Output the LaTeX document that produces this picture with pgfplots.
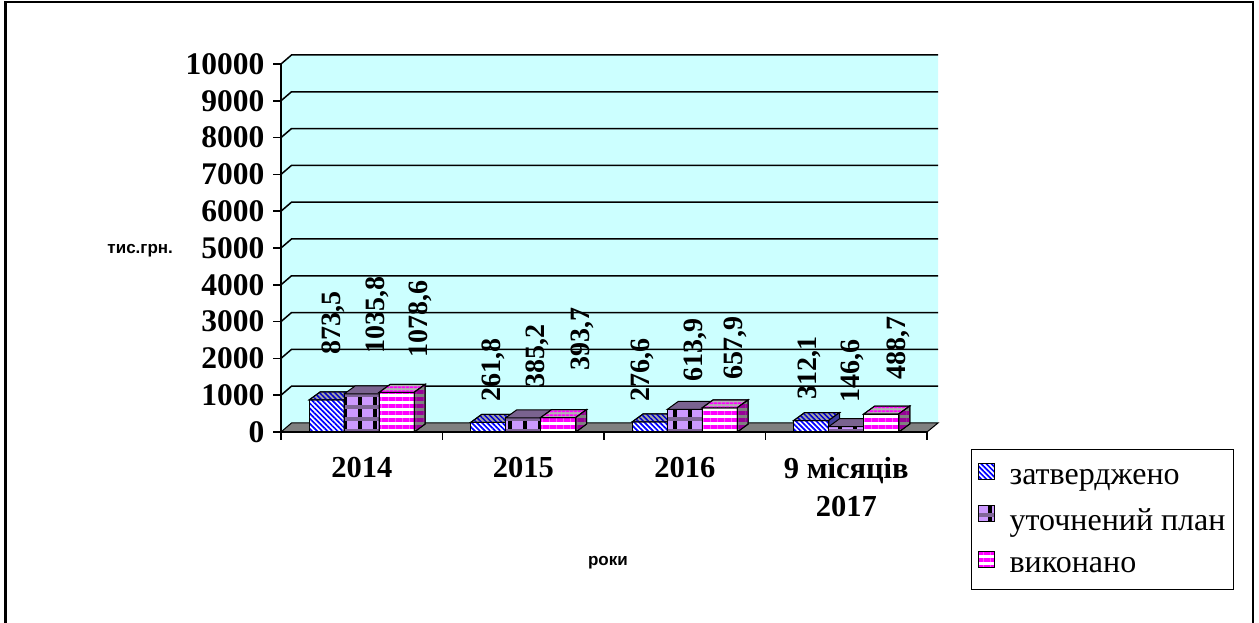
\documentclass[border=0pt]{standalone}
\usepackage{fontspec}
\setmainfont{Liberation Serif}
\newfontfamily\sansf{Liberation Sans}
\usepackage{pgfplots}
\pgfplotsset{compat=1.18}
\usetikzlibrary{patterns.meta}
\definecolor{wallc}{HTML}{CCFFFF}
\definecolor{floorc}{HTML}{808080}
\definecolor{lav}{HTML}{CC99FF}
\definecolor{band}{HTML}{806699}
\definecolor{mag}{HTML}{FF00FF}
\definecolor{dpur}{HTML}{990099}
\tikzset{
  s1front/.style={fill=white, draw=black, line width=1pt,
    postaction={pattern={Lines[angle=-45,distance=3.6pt,line width=1.7pt]}, pattern color=blue}},
  s1top/.style={fill=gray!70, draw=black, line width=1pt,
    postaction={pattern={Lines[angle=-45,distance=3.6pt,line width=1.5pt]}, pattern color=blue!80!black}},
  s1side/.style={fill={rgb,255:red,64;green,64;blue,160}, draw=black, line width=1pt},
  s2front/.style={fill=lav, draw=black, line width=1pt,
    postaction={pattern={Lines[angle=90,distance=15pt,line width=4pt]}, pattern color=black},
    postaction={pattern={Lines[angle=0,distance=12pt,line width=4.5pt]}, pattern color=band}},
  s2top/.style={fill={rgb,255:red,122;green,99;blue,144}, draw=black, line width=1pt},
  s2side/.style={fill={rgb,255:red,90;green,69;blue,112}, draw=black, line width=1pt},
  s3front/.style={fill=white, draw=black, line width=1pt,
    postaction={pattern={Lines[angle=0,distance=7pt,line width=3.5pt]}, pattern color=mag}},
  s3top/.style={fill=gray!60, draw=black, line width=1pt,
    postaction={pattern={Lines[angle=0,distance=4pt,line width=2pt]}, pattern color=mag}},
  s3side/.style={fill=gray, draw=black, line width=1pt,
    postaction={pattern={Lines[angle=0,distance=7pt,line width=3.5pt]}, pattern color=dpur}},
}
\newcommand{\boxfaces}[4]{%
  \pgfmathsetmacro\xl{#1-0.10836}%
  \pgfmathsetmacro\xr{#1+0.10836}%
  \pgfmathsetmacro\xlb{#1-0.10836+0.0681}%
  \pgfmathsetmacro\xrb{#1+0.10836+0.0681}%
  \pgfmathsetmacro\vb{#2+217.4}%
  \edef\tmp{%
    \noexpand\addplot[forget plot, #3] coordinates {(\xl,#2) (\xlb,\vb) (\xrb,\vb) (\xr,#2)} -- cycle;%
    \noexpand\addplot[forget plot, #4] coordinates {(\xr,0) (\xr,#2) (\xrb,\vb) (\xrb,217.4)} -- cycle;%
  }\tmp}
\begin{document}
\begin{tikzpicture}[x=1pt,y=1pt]
\useasboundingbox (0,0) rectangle (1259,623);
\draw[line width=2.6pt] (5.3,-5) -- (5.3,621) -- (1253,621) -- (1253,-5);
\begin{axis}[
  at={(281pt,191pt)}, anchor=south west,
  scale only axis, width=646pt, height=368pt,
  xmin=-0.5, xmax=3.5, ymin=0, ymax=10000,
  clip=false,
  axis on top,
  axis x line*=bottom, axis y line*=left,
  axis line style={black, line width=1.5pt, -},
  xtick={-0.5,0.5,1.5,2.5,3.5}, xticklabels={},
  extra x ticks={0,1,2,3},
  extra x tick labels={2014,2015,2016,{9 місяців\\2017}},
  extra x tick style={major tick length=0pt,
    xticklabel style={font=\bfseries\fontsize{30.5}{38}\selectfont, align=center, yshift=-22pt}},
  ytick={0,1000,...,10000},
  scaled y ticks=false,
  tick align=outside, major tick length=8pt,
  tick style={black, line width=1.5pt},
  yticklabel style={font=\bfseries\fontsize{31.5}{33}\selectfont, xshift=-5pt},
  ylabel={тис.грн.},
  ylabel style={rotate=-90, at={(axis description cs:-0.218,0.492)}, anchor=center,
    font=\sansf\bfseries\fontsize{17}{20}\selectfont},
  xlabel={роки},
  xlabel style={at={(axis description cs:0.506,-0.356)}, anchor=center,
    font=\sansf\bfseries\fontsize{17}{20}\selectfont},
  legend style={at={(axis description cs:1.068,-0.046)}, anchor=north west,
    draw=black, line width=1.4pt, font=\fontsize{32}{34}\selectfont,
    row sep=16.5pt, inner xsep=6pt, inner ysep=13pt, cells={anchor=west},
    /tikz/every odd column/.append style={column sep=13pt}},
  /pgf/number format/.cd, 1000 sep={}, fixed, assume math mode=true,
]
% wall
\fill[wallc] (axis cs:-0.5,0) -- (axis cs:-0.5,10000)
  -- ([xshift=10.5pt,yshift=9pt]axis cs:-0.5,10000)
  -- ([xshift=11pt,yshift=9pt]axis cs:3.5,10000)
  -- ([xshift=11pt,yshift=9pt]axis cs:3.5,0) -- (axis cs:3.5,0) -- cycle;
\pgfplotsinvokeforeach{1000,2000,3000,4000,5000,6000,7000,8000,9000,10000}{
  \draw[black, line width=1.5pt] (axis cs:-0.5,#1) -- ([xshift=10.5pt,yshift=9pt]axis cs:-0.5,#1)
    -- ([xshift=11pt,yshift=9pt]axis cs:3.5,#1);
}
% floor
\filldraw[fill=floorc, draw=black, line width=1pt] (axis cs:-0.5,0)
  -- ([xshift=10.5pt,yshift=9pt]axis cs:-0.5,0)
  -- ([xshift=11pt,yshift=9pt]axis cs:3.5,0) -- (axis cs:3.5,0) -- cycle;

% series 1: затверджено
\addplot[ybar, forget plot, bar width=35pt, bar shift=-35pt, s1front]
  coordinates {(0,873.5) (1,261.8) (2,276.6) (3,312.1)};
\boxfaces{0-0.21672}{873.5}{s1top}{s1side}
\boxfaces{1-0.21672}{261.8}{s1top}{s1side}
\boxfaces{2-0.21672}{276.6}{s1top}{s1side}
\boxfaces{3-0.21672}{312.1}{s1top}{s1side}
% series 2: уточнений план
\addplot[ybar, forget plot, bar width=35pt, bar shift=0pt, s2front]
  coordinates {(0,1035.8) (1,385.2) (2,613.9) (3,146.6)};
\boxfaces{0}{1035.8}{s2top}{s2side}
\boxfaces{1}{385.2}{s2top}{s2side}
\boxfaces{2}{613.9}{s2top}{s2side}
\boxfaces{3}{146.6}{s2top}{s2side}
% series 3: виконано
\addplot[ybar, forget plot, bar width=35pt, bar shift=35pt, s3front]
  coordinates {(0,1078.6) (1,393.7) (2,657.9) (3,488.7)};
\boxfaces{0+0.21672}{1078.6}{s3top}{s3side}
\boxfaces{1+0.21672}{393.7}{s3top}{s3side}
\boxfaces{2+0.21672}{657.9}{s3top}{s3side}
\boxfaces{3+0.21672}{488.7}{s3top}{s3side}

% data labels
\addplot[forget plot, only marks, mark=o, mark size=0pt,
  mark options={draw opacity=0, fill opacity=0},
  nodes near coords, point meta=explicit symbolic,
  nodes near coords style={rotate=90, anchor=west, inner sep=0pt, black, opacity=1,
    font=\bfseries\fontsize{28}{30}\selectfont}]
  table[x=x, y=y, meta=lab] {
x y lab
-0.176 2092 873,5
0.0975 2120 1035,8
0.361 2011 1078,6
0.8127 815 261,8
1.085 1196 385,2
1.364 1658 393,7
1.735 815 276,6
2.0635 1359 613,9
2.311 1413 657,9
2.769 870 312,1
3.036 788 146,6
3.320 1413 488,7
};

\addlegendimage{legend image code/.code={\draw[s1front] (3pt,-1pt) rectangle (19pt,15pt);}}
\addlegendentry{затверджено}
\addlegendimage{legend image code/.code={\draw[s2front] (3pt,-1pt) rectangle (19pt,15pt);}}
\addlegendentry{уточнений план}
\addlegendimage{legend image code/.code={\draw[s3front] (3pt,-1pt) rectangle (19pt,15pt);}}
\addlegendentry{виконано}
\end{axis}
\end{tikzpicture}
\end{document}
